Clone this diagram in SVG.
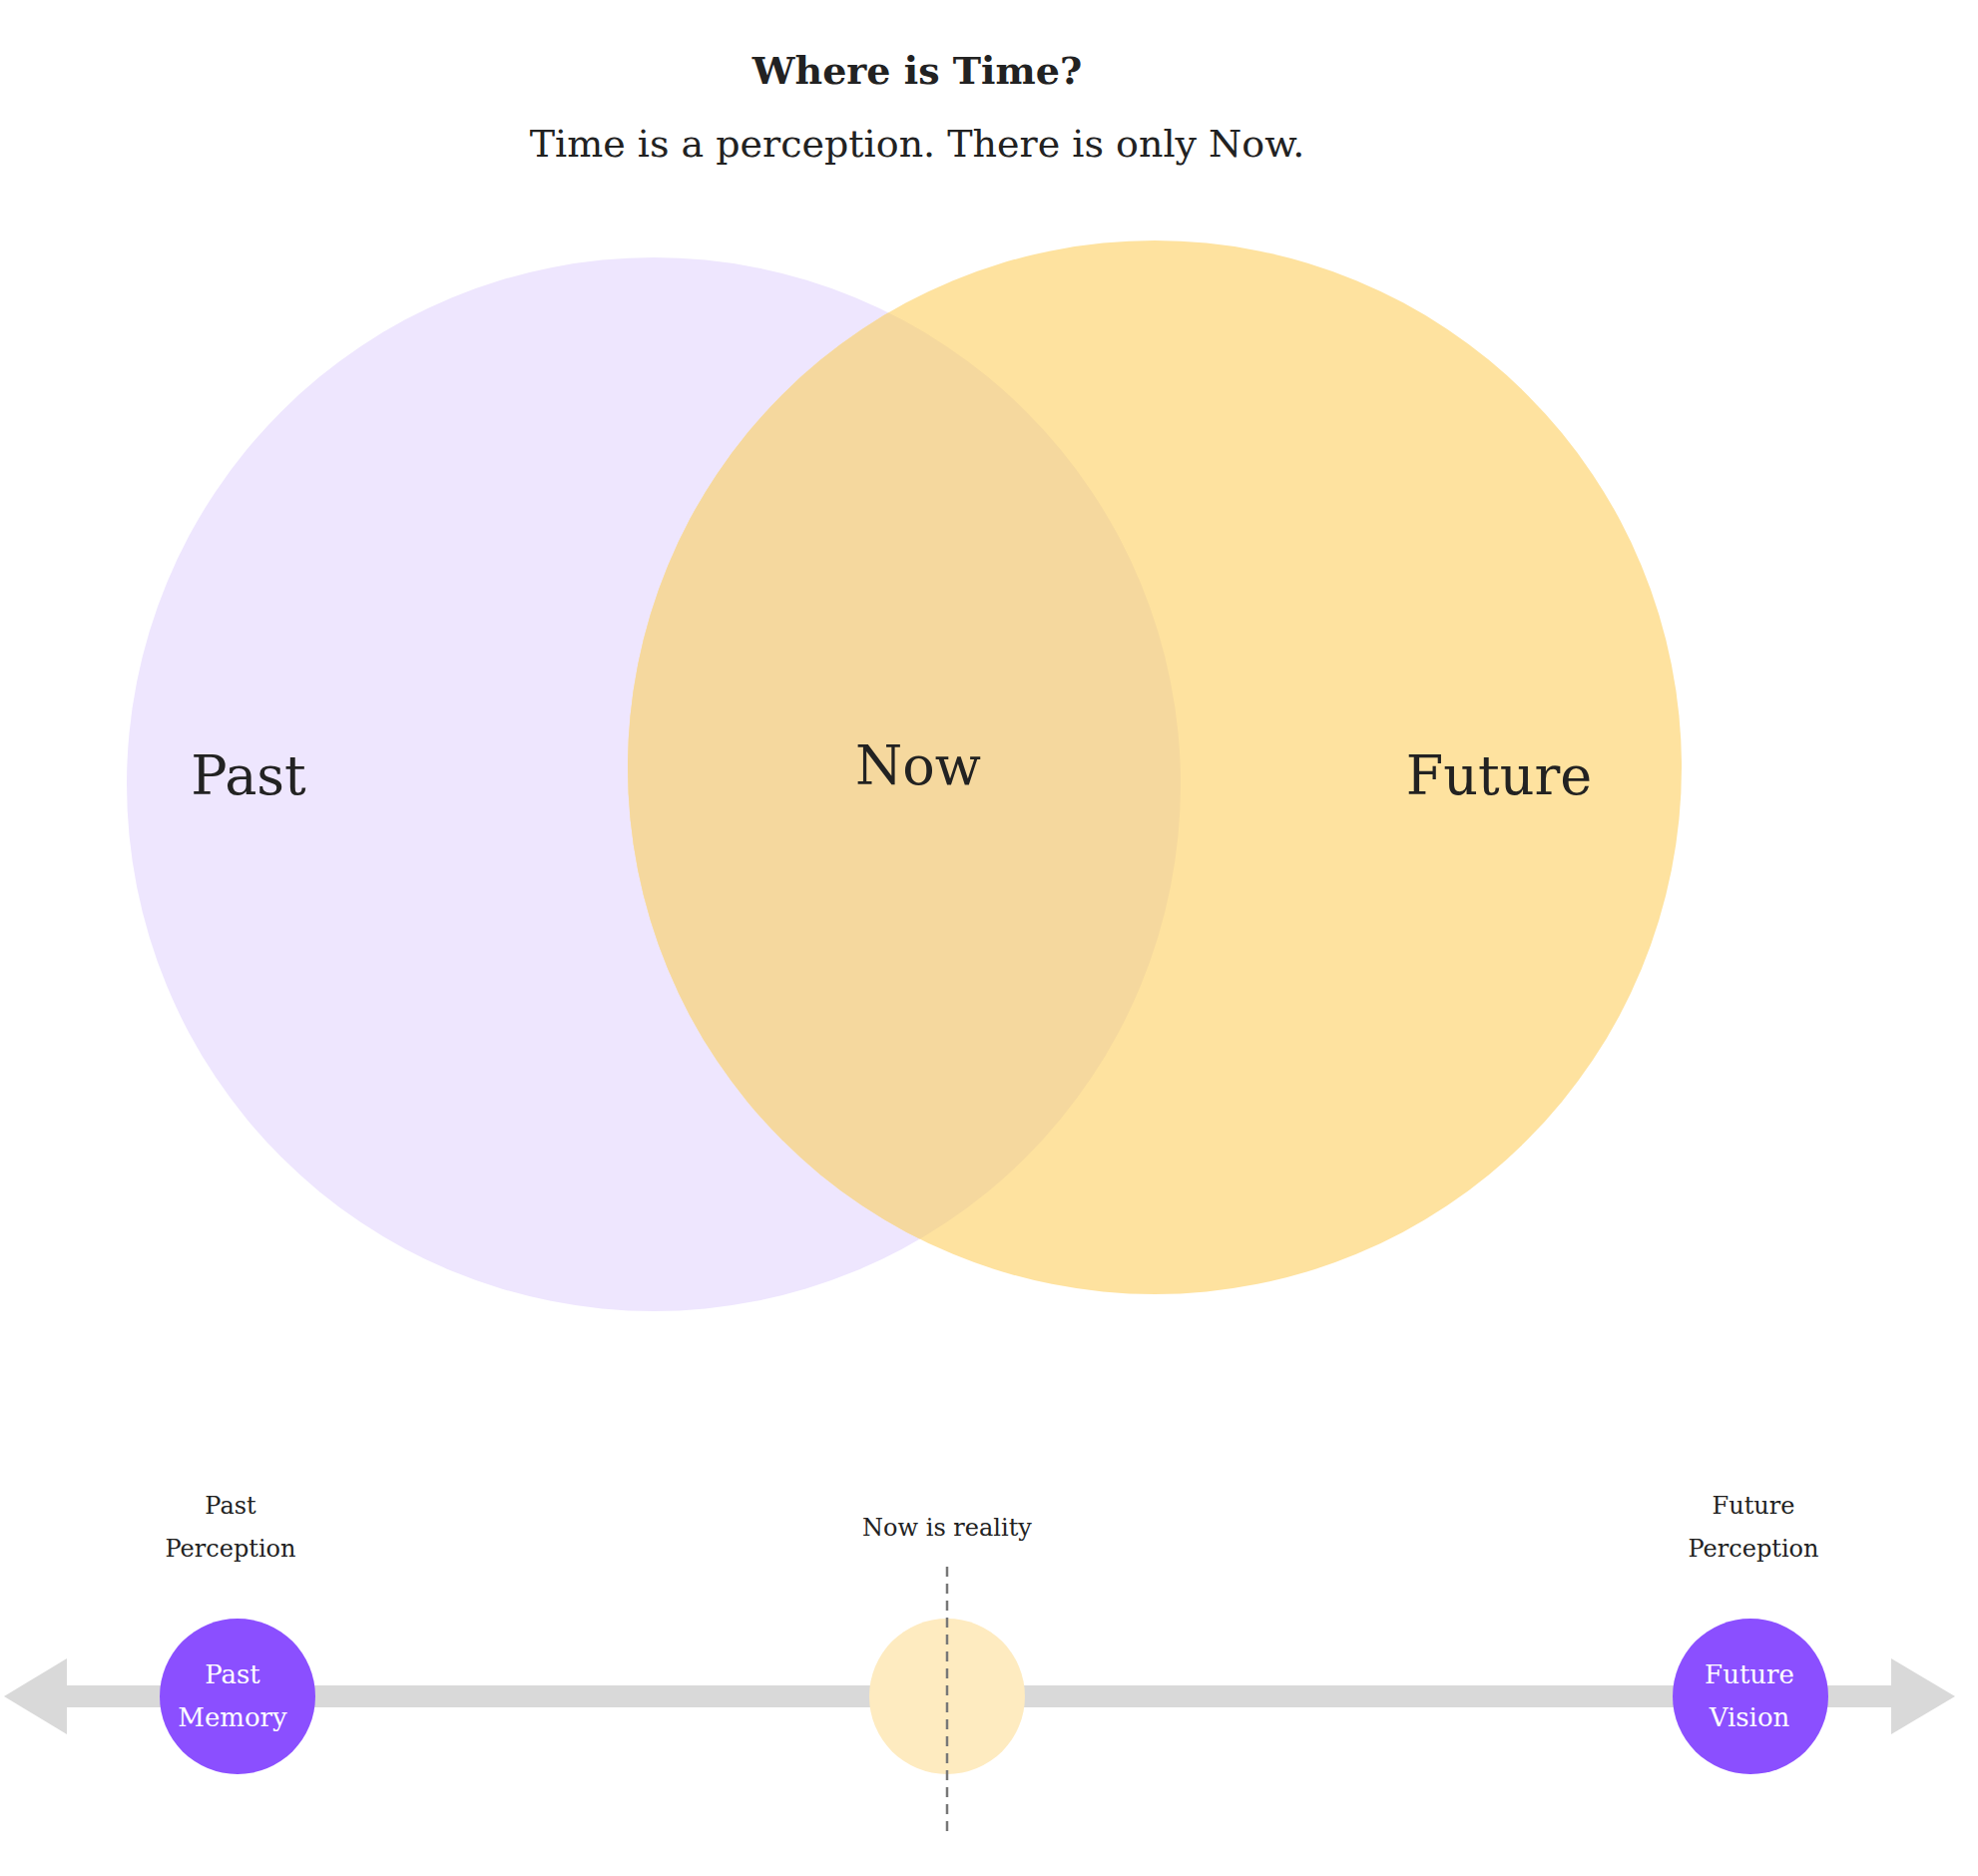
<svg xmlns="http://www.w3.org/2000/svg" width="1982" height="1880" viewBox="0 0 1982 1880">
<style>
text{font-family:"DejaVu Serif","Liberation Serif",serif;fill:#222;text-anchor:middle}
.big{font-size:54px}
.sm{font-size:24px}
.in{font-size:26px;fill:#fff}
</style>
<defs>
<clipPath id="cp"><circle cx="655" cy="786" r="528"/></clipPath>
</defs>
<rect width="1982" height="1880" fill="#fff"/>
<g id="title">
<text x="919" y="84" style="font-size:38px;font-weight:bold">Where is Time?</text>
<text x="919" y="157" style="font-size:38px">Time is a perception. There is only Now.</text>
</g>
<g id="past"><circle cx="655" cy="786" r="528" fill="#EEE6FE"/></g>
<g id="future"><circle cx="1157" cy="769" r="528" fill="#FEE29F"/></g>
<g id="now"><circle cx="1157" cy="769" r="528" fill="#F5D89E" clip-path="url(#cp)"/></g>
<g id="labels">
<text class="big" x="249" y="796">Past</text>
<text class="big" x="920" y="786">Now</text>
<text class="big" x="1502" y="796">Future</text>
</g>
<g id="connectors">
<rect x="60" y="1689" width="1842" height="22" fill="#D9D9D9"/>
<polygon points="4,1700 67,1662 67,1738" fill="#D9D9D9"/>
<polygon points="1959,1700 1895,1662 1895,1738" fill="#D9D9D9"/>
</g>
<g id="pastMemory"><circle cx="238" cy="1700" r="78" fill="#8B4FFF"/>
<text class="in" x="233" y="1687">Past</text><text class="in" x="233" y="1730">Memory</text></g>
<g id="nowDot"><circle cx="949" cy="1700" r="78" fill="#FEEBC0"/></g>
<g id="futureVision"><circle cx="1754" cy="1700" r="78" fill="#8B4FFF"/>
<text class="in" x="1753" y="1687">Future</text><text class="in" x="1753" y="1730">Vision</text></g>
<line x1="949" y1="1570" x2="949" y2="1835" stroke="#777" stroke-width="2.5" stroke-dasharray="10,7"/>
<g id="smallLabels">
<text class="sm" x="231" y="1517">Past</text><text class="sm" x="231" y="1560">Perception</text>
<text class="sm" x="949" y="1539">Now is reality</text>
<text class="sm" x="1757" y="1517">Future</text><text class="sm" x="1757" y="1560">Perception</text>
</g>
</svg>
